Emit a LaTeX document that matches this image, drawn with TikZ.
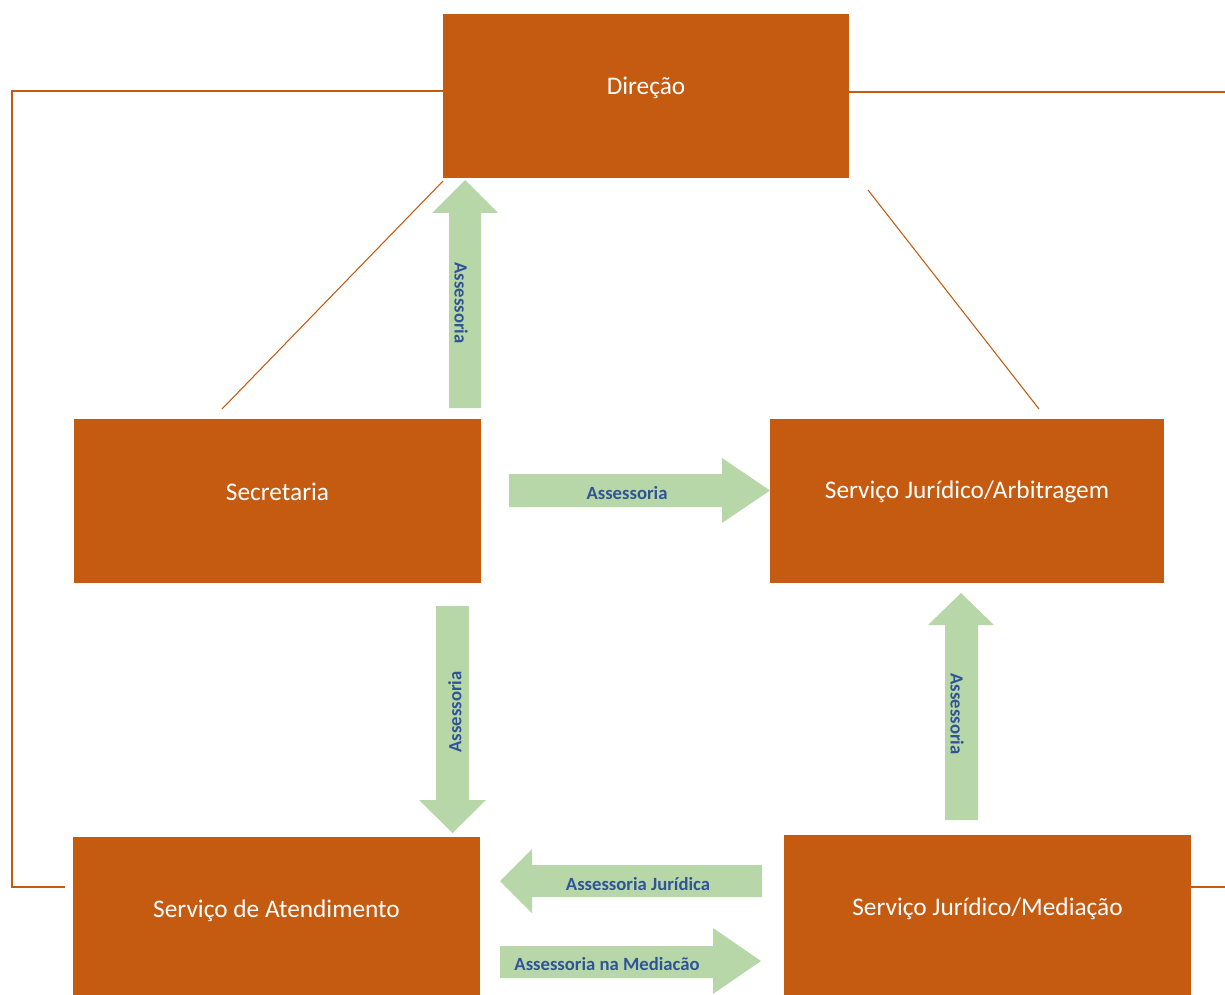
\documentclass[tikz,border=0pt]{standalone}
\usepackage{fontspec}
\setmainfont{Carlito}
\definecolor{orng}{HTML}{C55A11}
\definecolor{grn}{HTML}{B8D7A8}
\definecolor{lbl}{HTML}{2F5597}
\newcommand{\liftt}[2]{\raisebox{#1}[\height][\depth]{#2}}
\begin{document}
\begin{tikzpicture}[x=0.75pt,y=-0.75pt,
  box/.style={fill=orng,text=white,inner sep=0pt,font=\fontsize{19}{22}\selectfont},
  conn/.style={draw=orng,line width=0.8pt},
  barrow/.style={fill=grn,draw=none},
  lab/.style={text=lbl,font=\fontsize{14}{16}\selectfont\bfseries,inner sep=0pt}]
\useasboundingbox (0,0) rectangle (1225,995);
% boxes
\node[box,minimum width=304.5pt,minimum height=123pt] (dir) at (646,96) {\liftt{6pt}{Direção}};
\node[box,minimum width=305.25pt,minimum height=123pt] (sec) at (277.5,501) {\liftt{6.75pt}{Secretaria}};
\node[box,minimum width=295.5pt,minimum height=123pt] (arb) at (967,501) {\liftt{6.75pt}{Serviço Jurídico/Arbitragem}};
\node[box,minimum width=305.25pt,minimum height=120pt] (ate) at (276.5,917) {\liftt{4.5pt}{Serviço de Atendimento}};
\node[box,minimum width=305.25pt,minimum height=120pt] (med) at (987.5,915) {\liftt{4.5pt}{Serviço Jurídico/Mediação}};
% connector lines
\coordinate (l1) at (12,91);
\coordinate (l2) at (12,887);
\coordinate (l3) at (65,887);
\coordinate (r1) at (1225,92);
\coordinate (r2) at (1225,887);
\draw[conn] (dir.west |- 0,91) -- (l1) -- (l2) -- (l3);
\draw[conn] (dir.east |- 0,92) -- (r1);
\draw[conn] (med.east |- 0,887) -- (r2);
\coordinate (d1a) at (443,181);
\coordinate (d1b) at (222,409);
\coordinate (d2a) at (868,190);
\coordinate (d2b) at (1039,409);
\draw[conn] (d1a) -- (d1b);
\draw[conn] (d2a) -- (d2b);
% block arrows
\fill[barrow] (449,408) -- (449,213) -- (432,213) -- (465,180) -- (498,213) -- (481,213) -- (481,408) -- cycle;
\node[lab,rotate=-90] (a1) at (461,303) {Assessoria};
\fill[barrow] (509,474) -- (722,474) -- (722,458) -- (770,490.5) -- (722,523) -- (722,507) -- (509,507) -- cycle;
\node[lab] (a2) at (627,493) {Assessoria};
\fill[barrow] (436,606) -- (436,800) -- (419,800) -- (452.5,833) -- (486,800) -- (469,800) -- (469,606) -- cycle;
\node[lab,rotate=90] (a3) at (455,712) {Assessoria};
\fill[barrow] (945,820) -- (945,625) -- (928,625) -- (961,593) -- (994,625) -- (978,625) -- (978,820) -- cycle;
\node[lab,rotate=-90] (a4) at (957,714) {Assessoria};
\fill[barrow] (762,865) -- (532,865) -- (532,849) -- (500,881) -- (532,913) -- (532,897) -- (762,897) -- cycle;
\node[lab] (a5) at (638,884) {Assessoria Jurídica};
\fill[barrow] (500,946) -- (713,946) -- (713,928) -- (761,961) -- (713,994) -- (713,978) -- (500,978) -- cycle;
\node[lab] (a6) at (607,964) {Assessoria na Mediacão};
\end{tikzpicture}
\end{document}
